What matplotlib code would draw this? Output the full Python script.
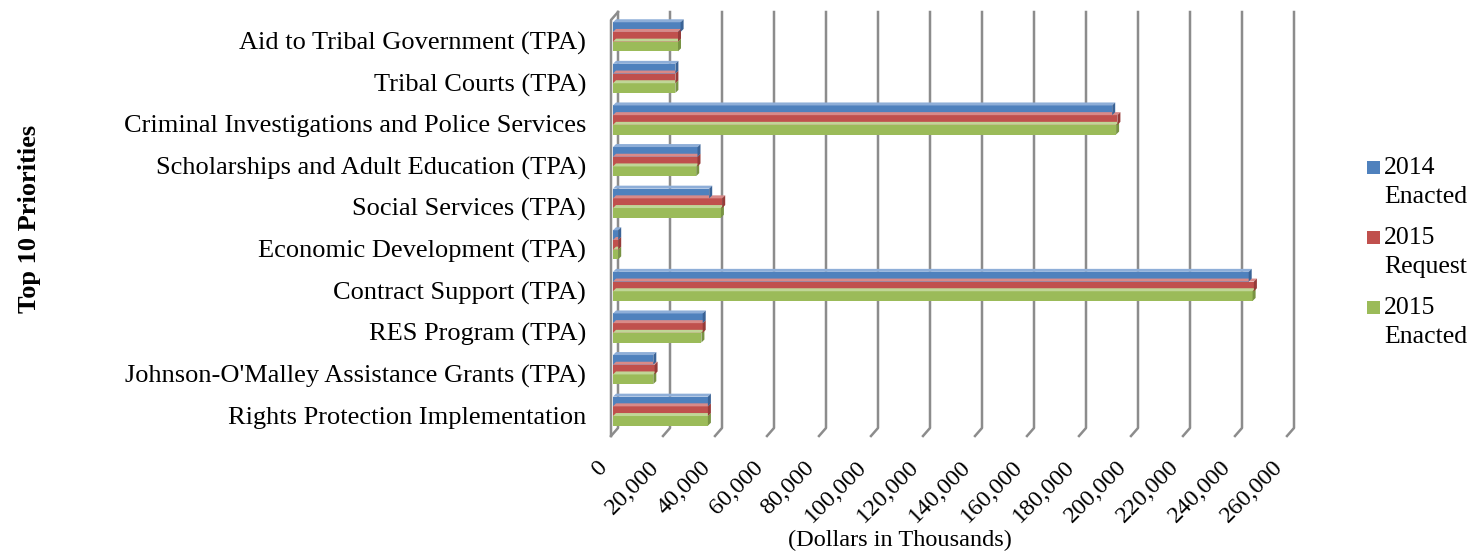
import numpy as np
import matplotlib
matplotlib.use("Agg")
import matplotlib.pyplot as plt
from matplotlib.patches import Polygon, Rectangle
from matplotlib.lines import Line2D
from matplotlib import transforms

categories = ["Aid to Tribal Government (TPA)", "Tribal Courts (TPA)",
              "Criminal Investigations and Police Services",
              "Scholarships and Adult Education (TPA)", "Social Services (TPA)",
              "Economic Development (TPA)", "Contract Support (TPA)",
              "RES Program (TPA)", "Johnson-O'Malley Assistance Grants (TPA)",
              "Rights Protection Implementation"]
enacted_2014 = [26000, 24000, 192000, 32500, 37000, 2000, 244500, 34500, 15500, 36500]
request_2015 = [25000, 24000, 194000, 32500, 42000, 2000, 246500, 34500, 16000, 36500]
enacted_2015 = [25000, 24000, 193500, 32000, 41500, 2000, 246000, 34000, 15500, 36500]
series_names = ["2014\nEnacted", "2015\nRequest", "2015\nEnacted"]
x_ticks = list(range(0, 260001, 20000))

colors = ["#4F81BD", "#C0504D", "#9BBB59"]
dark = ["#3A6396", "#963B39", "#789343"]
light = ["#8EAED8", "#D98A88", "#C0D697"]
grid_col = "#8C8C8C"
font = "Liberation Serif"

W, H = 1478, 553
fig = plt.figure(figsize=(W / 100, H / 100), dpi=100)
# front plane of the 3D box
ax = fig.add_axes([611 / W, 1 - 436 / H, (1287 - 611) / W, (436 - 20) / H])
ax.set_xlim(0, 260000)
ax.set_ylim(len(categories) - 0.5, -0.5)
for s in ax.spines.values():
    s.set_visible(False)
ax.tick_params(length=0)
ax.set_facecolor("none")
fig.canvas.draw()

depth = (7, 8)  # back wall offset in pixels
ident = transforms.IdentityTransform()

def disp(x, y):
    return ax.transData.transform((x, y))

# back wall gridlines with floor diagonals
ytop, ybot = -0.5, len(categories) - 0.5
for v in x_ticks:
    fx, fy = disp(v, ybot)
    _, ty = disp(v, ytop)
    pts = [(fx + depth[0], ty + depth[1]), (fx + depth[0], fy + depth[1]), (fx, fy)]
    fig.add_artist(Line2D([p[0] for p in pts], [p[1] for p in pts], transform=ident,
                          color=grid_col, lw=1.8, zorder=-1))
# left wall front edge + top corner
fx, fy = disp(0, ybot)
_, ty = disp(0, ytop)
fig.add_artist(Line2D([fx, fx, fx + depth[0]], [fy, ty, ty + depth[1]], transform=ident,
                      color=grid_col, lw=1.8, zorder=-1))

# bars
series = [enacted_2014, request_2015, enacted_2015]
h = 0.233
y = np.arange(len(categories))
bar_off = transforms.offset_copy(ax.transData, fig, x=2, y=4, units="dots")
d = 3
for k in [2, 1, 0]:
    pos = y + (k - 1) * h
    bars = ax.barh(pos, series[k], height=h, color=colors[k], transform=bar_off,
                   zorder=3, linewidth=0)
    for b in bars:
        x0, y0 = bar_off.transform((b.get_x(), b.get_y() + b.get_height()))
        x1, y1 = bar_off.transform((b.get_x() + b.get_width(), b.get_y()))
        side = Polygon([(x1, y0), (x1 + d, y0 + d), (x1 + d, y1 + d), (x1, y1)],
                       closed=True, transform=ident, facecolor=dark[k], lw=0, zorder=4)
        top = Polygon([(x0, y1), (x0 + d, y1 + d), (x1 + d, y1 + d), (x1, y1)],
                      closed=True, transform=ident, facecolor=light[k], lw=0, zorder=2)
        fig.add_artist(top)
        fig.add_artist(side)

ax.set_yticks(y)
ax.set_yticklabels(categories, fontfamily=font, fontsize=19)
ax.tick_params(axis="y", pad=18)
ax.set_xticks(x_ticks)
ax.set_xticklabels([f"{v:,}" for v in x_ticks], fontfamily=font, fontsize=17.5,
                   rotation=45, ha="right", va="top")
ax.tick_params(axis="x", pad=15)

fig.text(30 / W, 1 - 219 / H, "Top 10 Priorities", rotation=90, fontfamily=font,
         fontsize=19, fontweight="bold", ha="center", va="center")
fig.text(900 / W, 1 - 540 / H, "(Dollars in Thousands)", fontfamily=font,
         fontsize=17.5, ha="center", va="center")

# legend
leg_y = [167, 237, 307]
for k, name in enumerate(series_names):
    fig.add_artist(Rectangle(((1367) / W, 1 - (leg_y[k] + 6.5) / H), 13 / W, 13 / H,
                             transform=fig.transFigure, facecolor=colors[k], lw=0))
    for i, line in enumerate(name.split("\n")):
        fig.text(1384 / W, 1 - (leg_y[k] + 1 + i * 29) / H, line, fontfamily=font,
                 fontsize=18.5, ha="left", va="center")

fig.savefig("out.png", dpi=100)
